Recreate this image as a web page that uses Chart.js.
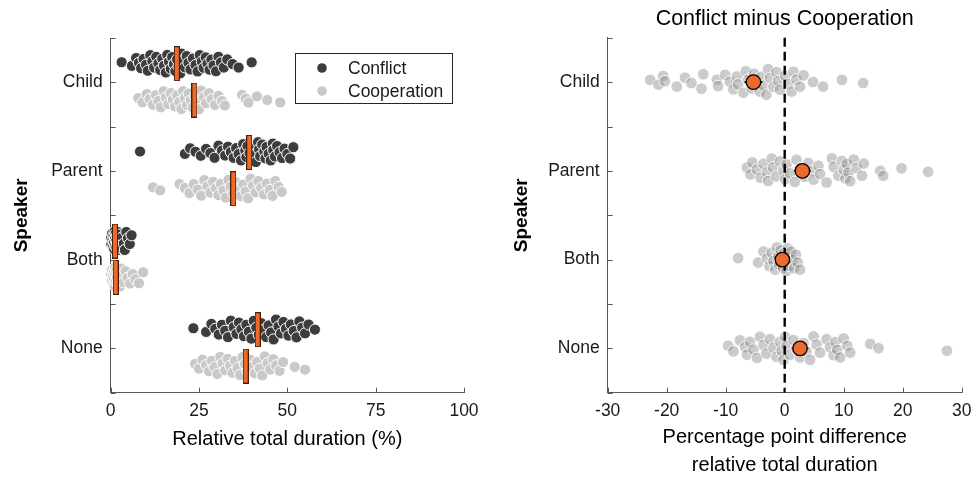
<!DOCTYPE html>
<html>
<head>
<meta charset="utf-8">
<script src="https://cdn.jsdelivr.net/npm/chart.js@4.4.1/dist/chart.umd.min.js"></script>
<style>
  html, body { margin: 0; padding: 0; background: #ffffff; }
  #wrap { position: relative; width: 974px; height: 480px; }
  #shares { position: absolute; left: 0; top: 0; }
  #diffs { position: absolute; left: 487px; top: 0; }
</style>
</head>
<body>
<div id="wrap">
  <canvas id="shares" width="487" height="480"></canvas>
  <canvas id="diffs" width="487" height="480"></canvas>
</div>
<script>
// ---- categories and tick labels ----
const speakers = ['Child', 'Parent', 'Both', 'None'];
const shareTicks = [0, 25, 50, 75, 100];
const diffTicks = [-30, -20, -10, 0, 10, 20, 30];
const seriesNames = ['Conflict', 'Cooperation'];

// ---- relative total duration (%) per dyad ----
const childConflict = [3.1, 6.0, 7.2, 8.0, 8.6, 9.3, 10.0, 10.5, 11.2, 11.8, 12.3, 12.9, 13.5, 14.0, 14.6, 15.1, 15.6, 16.0, 16.5, 17.0, 17.4, 17.9, 18.3, 18.8, 19.2, 19.7, 20.1, 20.6, 21.0, 21.5, 22.0, 22.6, 23.3, 24.0, 24.6, 25.2, 25.8, 26.3, 26.9, 27.4, 28.0, 28.5, 29.1, 29.8, 30.5, 31.2, 32.0, 33.0, 34.5, 36.2, 39.9];
const childCooperation = [7.8, 9.0, 10.2, 11.0, 12.0, 12.8, 13.5, 14.2, 15.0, 15.6, 16.3, 17.0, 17.6, 18.2, 18.8, 19.4, 20.0, 20.5, 21.0, 21.6, 22.1, 22.7, 23.2, 23.8, 24.4, 25.0, 25.6, 26.3, 27.0, 27.8, 28.6, 29.5, 30.5, 31.5, 32.3, 37.2, 38.2, 39.0, 41.4, 44.3, 48.0];
const parentConflict = [8.3, 21.0, 22.5, 24.0, 25.5, 27.0, 28.2, 29.4, 30.5, 31.5, 32.4, 33.2, 34.0, 34.8, 35.5, 36.2, 36.9, 37.5, 38.1, 38.4, 38.7, 39.3, 39.9, 40.2, 40.5, 41.1, 41.7, 42.0, 42.3, 42.9, 43.5, 43.8, 44.1, 44.7, 45.3, 45.9, 46.0, 46.5, 47.1, 47.8, 48.5, 49.2, 50.0, 50.8, 51.7];
const parentCooperation = [12.0, 14.0, 19.5, 21.0, 22.3, 23.5, 24.6, 25.6, 26.5, 27.4, 28.2, 29.0, 29.8, 30.5, 31.2, 31.9, 32.6, 33.3, 34.0, 34.7, 35.4, 36.1, 36.8, 37.5, 38.2, 38.9, 39.6, 40.3, 41.0, 41.8, 42.6, 43.4, 44.2, 45.0, 45.8, 46.6, 47.5, 48.4];
const bothConflict = [0.1, 0.2, 0.4, 0.5, 0.7, 0.8, 0.9, 1.0, 1.1, 1.2, 1.3, 1.4, 1.5, 1.6, 1.7, 1.8, 2.0, 2.1, 2.3, 2.5, 2.7, 2.9, 3.1, 3.4, 3.7, 4.0, 4.4, 4.9, 5.4, 5.9];
const bothCooperation = [0.1, 0.3, 0.4, 0.6, 0.7, 0.9, 1.0, 1.1, 1.2, 1.3, 1.5, 1.6, 1.8, 2.0, 2.2, 2.4, 2.7, 3.0, 3.3, 3.7, 4.2, 4.8, 5.5, 6.2, 7.0, 8.0, 9.2];
const noneConflict = [23.4, 27.0, 28.5, 29.6, 30.6, 31.5, 32.4, 33.2, 34.0, 34.8, 35.6, 36.3, 37.0, 37.7, 38.4, 39.1, 39.8, 40.5, 41.2, 41.9, 42.6, 43.3, 44.0, 44.7, 45.4, 46.1, 46.8, 47.5, 48.2, 48.9, 49.6, 50.3, 51.0, 51.8, 52.6, 53.4, 54.2, 55.0, 56.0, 57.8];
const noneCooperation = [23.9, 25.0, 26.0, 27.0, 27.8, 28.6, 29.4, 30.2, 31.0, 31.7, 32.4, 33.1, 33.8, 34.5, 35.2, 35.9, 36.6, 37.3, 38.0, 38.7, 39.4, 40.1, 40.8, 41.5, 42.2, 42.9, 43.6, 44.4, 45.2, 46.0, 46.8, 47.8, 48.8, 52.1, 55.0];

// central value marker per speaker
const conflictCentres = [18.7, 39.2, 1.2, 41.6];
const cooperationCentres = [23.7, 34.7, 1.4, 38.2];

// ---- conflict minus cooperation, percentage points ----
const childDiff = [-22.8, -21.4, -20.6, -20.3, -18.3, -16.9, -15.8, -14.1, -13.8, -11.5, -11.3, -10.1, -9.3, -8.7, -8.1, -7.9, -7.0, -6.6, -6.2, -5.6, -5.2, -4.7, -4.2, -3.9, -3.6, -3.1, -2.8, -2.5, -1.9, -1.4, -1.1, -0.8, 0.05, 0.6, 1.2, 1.5, 2.0, 2.6, 3.2, 4.8, 6.5, 9.7, 13.3];
const parentDiff = [-6.4, -5.8, -5.5, -4.7, -4.1, -3.6, -3.0, -2.8, -2.2, -2.0, -1.4, -0.8, -0.2, 0.05, 0.3, 0.9, 1.7, 2.0, 2.6, 3.4, 4.0, 4.6, 4.9, 5.7, 6.0, 7.1, 8.0, 8.3, 9.1, 9.7, 10.0, 10.3, 10.5, 10.8, 11.1, 11.7, 12.2, 13.1, 13.4, 16.2, 16.7, 19.8, 24.3];
const bothDiff = [-7.9, -4.5, -3.6, -3.0, -2.6, -2.2, -1.9, -1.6, -1.3, -1.1, -0.9, -0.7, -0.5, -0.3, -0.1, 0.1, 0.3, 0.5, 0.7, 0.9, 1.1, 1.3, 1.6, 1.9, 2.2, 2.6];
const noneDiff = [-9.6, -8.7, -7.6, -6.7, -6.4, -5.9, -5.3, -4.7, -4.2, -3.6, -3.1, -2.5, -1.9, -1.4, -0.8, -0.5, -0.2, 0.05, 0.3, 0.9, 1.5, 2.0, 2.6, 3.2, 3.7, 4.3, 4.9, 5.4, 6.0, 7.1, 7.7, 8.3, 8.6, 8.9, 9.4, 10.0, 10.6, 11.1, 14.5, 15.9, 27.5];
const diffMeans = [-5.3, 3.0, -0.4, 2.6];
const diffErrors = [1.5, 1.4, 0.6, 1.4];
const zeroDiff = 0;

// ---- styling ----
const FONT = "'Liberation Sans', Arial, Helvetica, sans-serif";
Chart.defaults.font.family = FONT;
Chart.defaults.color = '#1a1a1a';
const AXIS = '#595959';
const DARK = '#3d3d3d';
const LIGHT = '#c9c9c9';
const ORANGE = '#ec6a2c';
const ROW_PX = 88.7;

// base-3 radical inverse, used to spread dots evenly across the band
function radicalInverse3(n) {
  let f = 1, r = 0;
  while (n > 0) { f /= 3; r += f * (n % 3); n = Math.floor(n / 3); }
  return r;
}

// Density-scaled swarm spread: the vertical extent of each dot's offset
// follows the local density of its group (Gaussian kernel estimate).
function swarmOffsets(values, bandwidth, halfBandPx) {
  const dens = values.map(x => values.reduce((s, v) => s + Math.exp(-0.5 * ((x - v) / bandwidth) ** 2), 0));
  const dMax = Math.max(...dens);
  const idx = values.map((v, i) => i).sort((a, b) => values[a] - values[b]);
  const out = new Array(values.length);
  idx.forEach((i, k) => {
    const u = 2 * radicalInverse3(k + 1) - 1;
    out[i] = (halfBandPx * Math.sqrt(dens[i] / dMax) * u) / ROW_PX;
  });
  return out;
}

function swarm(values, row, shift, bandwidth, halfBandPx) {
  const offs = swarmOffsets(values, bandwidth, halfBandPx);
  return values.map((v, i) => ({ x: v, y: row + shift + offs[i] }));
}

// tall orange marker used for the central values
function barMarker(w, h) {
  const c = document.createElement('canvas');
  c.width = w; c.height = h;
  const g = c.getContext('2d');
  g.fillStyle = ORANGE;
  g.fillRect(0, 0, w, h);
  g.strokeStyle = '#4a1e08';
  g.lineWidth = 1;
  g.strokeRect(0.5, 0.5, w - 1, h - 1);
  return c;
}
const marker = barMarker(6, 35);

// tick marks drawn inside the plotting area
const inwardTicks = {
  id: 'inwardTicks',
  afterDatasetsDraw(chart) {
    const { ctx, chartArea: a, scales } = chart;
    ctx.save();
    ctx.strokeStyle = AXIS;
    ctx.lineWidth = 1;
    ctx.beginPath();
    scales.x.ticks.forEach((t, i) => {
      const px = Math.round(scales.x.getPixelForTick(i)) + 0.5;
      ctx.moveTo(px, a.bottom);
      ctx.lineTo(px, a.bottom - 5);
    });
    scales.y.ticks.forEach((t, i) => {
      const py = Math.round(scales.y.getPixelForTick(i)) + 0.5;
      ctx.moveTo(a.left, py);
      ctx.lineTo(a.left + 5, py);
    });
    ctx.stroke();
    ctx.restore();
  }
};

// boxed key with one filled dot per series
const keyBox = {
  id: 'keyBox',
  afterDraw(chart) {
    const { ctx, chartArea: a } = chart;
    const x0 = Math.round(a.right - 169), y0 = Math.round(a.top + 15), w = 157, h = 50;
    ctx.save();
    ctx.fillStyle = '#ffffff';
    ctx.fillRect(x0, y0, w, h);
    ctx.strokeStyle = '#262626';
    ctx.lineWidth = 1;
    ctx.strokeRect(x0 + 0.5, y0 + 0.5, w, h);
    const entries = chart.data.datasets.filter(d => d.inKey);
    entries.forEach((d, k) => {
      const cy = y0 + 15 + k * 23;
      ctx.beginPath();
      ctx.arc(x0 + 27, cy, 4.8, 0, Math.PI * 2);
      ctx.fillStyle = d.backgroundColor;
      ctx.fill();
      ctx.fillStyle = '#1a1a1a';
      ctx.font = '17.5px ' + FONT;
      ctx.textBaseline = 'middle';
      ctx.textAlign = 'left';
      ctx.fillText(d.label, x0 + 53, cy + 1);
    });
    ctx.restore();
  }
};

function rowAxis(titlePad, width) {
  return {
    type: 'linear', min: -0.5, max: 3.5, reverse: true,
    ticks: {
      stepSize: 0.5, autoSkip: false, padding: 8,
      font: { size: 17.5 }, color: '#1a1a1a',
      callback: v => Number.isInteger(v) ? speakers[v] : ''
    },
    grid: { display: true, drawOnChartArea: false, drawTicks: false },
    border: { display: true, color: AXIS, width: 1 },
    title: { display: true, text: 'Speaker', font: { size: 19, weight: 'bold' }, color: '#000', padding: { top: titlePad, bottom: 0 } },
    afterFit: s => { s.width = width; }
  };
}

// horizontal axis fitted to a fixed band height, without label overhang padding
function fitValueAxis(s) {
  s.height = 87.3;
  s.paddingLeft = 0;
  s.paddingRight = 0;
}

const shareRows = [childConflict, parentConflict, bothConflict, noneConflict];
const coopRows = [childCooperation, parentCooperation, bothCooperation, noneCooperation];
const diffRows = [childDiff, parentDiff, bothDiff, noneDiff];

// ---- left panel: shares per speaker ----
new Chart(document.getElementById('shares'), {
  type: 'scatter',
  data: {
    datasets: [
      {
        label: 'Conflict centre', order: 0, clip: false,
        data: conflictCentres.map((v, i) => ({ x: v, y: i - 0.21 })),
        pointStyle: marker, pointRadius: 10
      },
      {
        label: 'Cooperation centre', order: 0, clip: false,
        data: cooperationCentres.map((v, i) => ({ x: v, y: i + 0.2 })),
        pointStyle: marker, pointRadius: 10
      },
      {
        label: seriesNames[0], inKey: true, order: 1, clip: false,
        data: shareRows.flatMap((vals, i) => swarm(vals, i, -0.21, 3, 10.5)),
        backgroundColor: DARK, pointBackgroundColor: DARK,
        pointBorderColor: '#ffffff', pointBorderWidth: 1, pointRadius: 5.6
      },
      {
        label: seriesNames[1], inKey: true, order: 2, clip: false,
        data: coopRows.flatMap((vals, i) => swarm(vals, i, 0.2, 3, 10.5)),
        backgroundColor: LIGHT, pointBackgroundColor: LIGHT,
        pointBorderColor: '#ffffff', pointBorderWidth: 1, pointRadius: 5.6
      }
    ]
  },
  options: {
    animation: false, responsive: false, events: [],
    layout: { padding: { top: 38, right: 23, left: 0, bottom: 0 } },
    plugins: { legend: { display: false }, tooltip: { enabled: false } },
    scales: {
      x: {
        type: 'linear', min: shareTicks[0], max: shareTicks[shareTicks.length - 1],
        afterBuildTicks: s => { s.ticks = shareTicks.map(v => ({ value: v })); },
        ticks: { padding: 8, font: { size: 17.5 }, color: '#1a1a1a' },
        grid: { display: true, drawOnChartArea: false, drawTicks: false },
        border: { display: true, color: AXIS, width: 1 },
        title: { display: true, text: 'Relative total duration (%)', font: { size: 20 }, color: '#000', padding: { top: 0, bottom: 29 } },
        afterFit: fitValueAxis
      },
      y: rowAxis(10.5, 110.7)
    }
  },
  plugins: [inwardTicks, keyBox]
});

// ---- right panel: differences ----
new Chart(document.getElementById('diffs'), {
  type: 'scatter',
  data: {
    datasets: [
      {
        label: 'Mean', order: 0, clip: false,
        data: diffMeans.map((v, i) => ({ x: v, y: i })),
        pointBackgroundColor: ORANGE, pointBorderColor: '#000000',
        pointBorderWidth: 1.3, pointRadius: 7.2
      },
      ...diffMeans.map((m, i) => ({
        label: 'Error ' + speakers[i], order: 1, showLine: true,
        data: [{ x: m - diffErrors[i], y: i }, { x: m + diffErrors[i], y: i }],
        borderColor: '#000000', borderWidth: 1.6, pointRadius: 0
      })),
      {
        label: 'Zero', order: 2, showLine: true, clip: false,
        data: [{ x: zeroDiff, y: -0.5 }, { x: zeroDiff, y: 3.5 }],
        borderColor: '#000000', borderWidth: 2.4, borderDash: [9, 5], pointRadius: 0
      },
      {
        label: 'Difference', order: 3, clip: false,
        data: diffRows.flatMap((vals, i) => swarm(vals, i, 0, 2.5, 13.5)),
        pointBackgroundColor: 'rgba(140,140,140,0.45)',
        pointBorderColor: 'rgba(255,255,255,0.85)', pointBorderWidth: 1, pointRadius: 5.8
      }
    ]
  },
  options: {
    animation: false, responsive: false, events: [],
    layout: { padding: { top: 0, right: 12.3, left: 0, bottom: 0 } },
    plugins: {
      legend: { display: false }, tooltip: { enabled: false },
      title: {
        display: true, text: 'Conflict minus Cooperation', fullSize: false,
        font: { size: 21.5, weight: 'normal' }, color: '#000',
        padding: { top: 6, bottom: 6 }
      }
    },
    scales: {
      x: {
        type: 'linear', min: diffTicks[0], max: diffTicks[diffTicks.length - 1],
        afterBuildTicks: s => { s.ticks = diffTicks.map(v => ({ value: v })); },
        ticks: { padding: 8, font: { size: 17.5 }, color: '#1a1a1a' },
        grid: { display: true, drawOnChartArea: false, drawTicks: false },
        border: { display: true, color: AXIS, width: 1 },
        title: {
          display: true, text: ['Percentage point difference', 'relative total duration'],
          font: { size: 20, lineHeight: 1.4 }, color: '#000', padding: { top: 0, bottom: 1 }
        },
        afterFit: fitValueAxis
      },
      y: rowAxis(23.5, 120.7)
    }
  },
  plugins: [inwardTicks]
});
</script>
</body>
</html>
